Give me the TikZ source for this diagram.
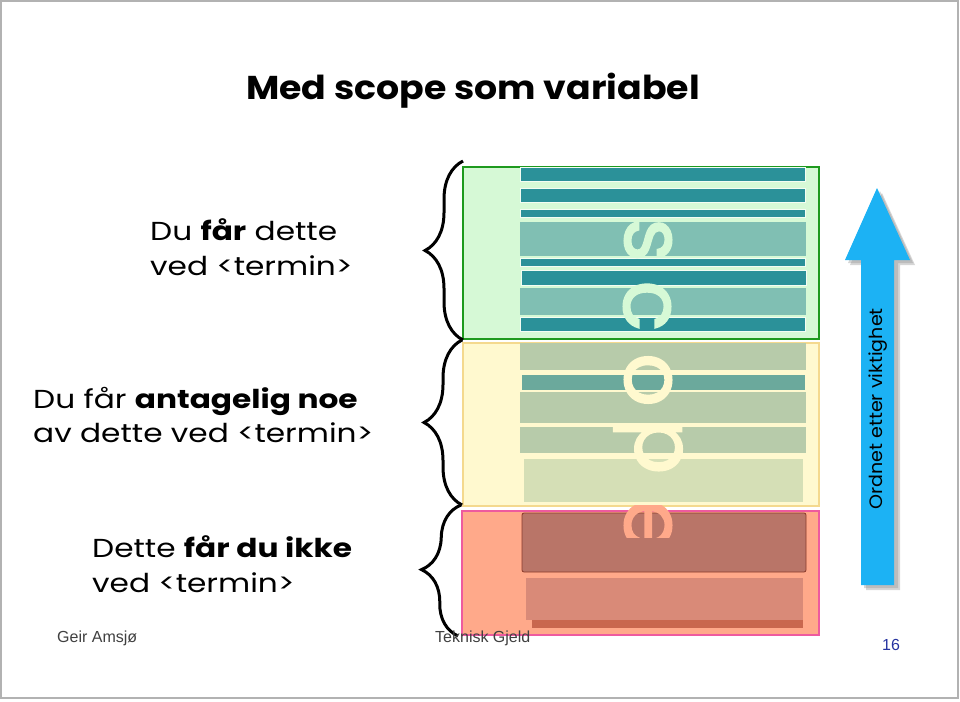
\documentclass[tikz,border=0pt]{standalone}
\usepackage{fontspec}
\setmainfont{Poppins}
\newfontfamily\titlefont[FakeStretch=1.1]{Poppins}
\newfontfamily\widefont[FakeStretch=1.2]{Poppins}
\newfontfamily\arrfont[FakeStretch=1.06]{Poppins}
\newfontfamily\letterfont[FakeBold=1.8]{Poppins}
\newfontfamily\footfont{Liberation Sans}
\usetikzlibrary{decorations.pathreplacing}
\definecolor{gfill}{HTML}{D6F9D6}
\definecolor{gline}{HTML}{1E9A1E}
\definecolor{yfill}{HTML}{FFF9CF}
\definecolor{yline}{HTML}{F4D98E}
\definecolor{pfill}{HTML}{FFA98A}
\definecolor{pline}{HTML}{EE5A9E}
\definecolor{tealdark}{HTML}{2B9199}
\definecolor{teallight}{HTML}{80BFB3}
\definecolor{sage}{HTML}{B7CBAA}
\definecolor{sagedark}{HTML}{6BA99C}
\definecolor{sagelight}{HTML}{D5DFB6}
\definecolor{brown1}{HTML}{B97568}
\definecolor{brownline}{HTML}{8B3A2A}
\definecolor{salmon2}{HTML}{D98A78}
\definecolor{salmon3}{HTML}{C9674E}
\definecolor{arrowblue}{HTML}{1CB2F4}
\definecolor{footgray}{HTML}{404040}
\definecolor{pageblue}{HTML}{2633A0}
\tikzset{
  box/.style={rectangle, inner sep=0pt, anchor=north west, line width=2pt},
  txt/.style={anchor=base west, inner sep=0pt, font=\widefont\fontsize{26}{30}\selectfont},
  darkstripe/.style={fill=tealdark, draw=white!70!gfill, line width=1pt},
  lightstripe/.style={fill=teallight},
  letter/.style={inner sep=0pt, rotate=-90, font=\letterfont\fontsize{84}{90}\selectfont},
  bracestyle/.style={decorate, decoration={brace, amplitude=38pt, aspect=0.5}, line width=3pt},
  foot/.style={anchor=base west, inner sep=0pt, font=\footfont\fontsize{16}{18}\selectfont, text=footgray}
}
\begin{document}
\begin{tikzpicture}[x=1pt,y=-1pt]
\useasboundingbox (0,0) rectangle (960,701);
\fill[white] (0,0) rectangle (960,701);
\draw[black!30, line width=2pt] (1,1) rectangle (958,698);

% title
\node[anchor=base, inner sep=0pt, font=\titlefont\bfseries\fontsize{33}{38}\selectfont] (title) at (473,99) {Med scope som variabel};

% left texts
\node[txt] (a1) at (150,240) {Du \textbf{får} dette};
\node[txt] (a2) at (150,275) {ved <termin>};
\node[txt] (b1) at (33,408) {Du får \textbf{antagelig noe}};
\node[txt] (b2) at (33,442) {av dette ved <termin>};
\node[txt] (c1) at (92,557) {Dette \textbf{får du ikke}};
\node[txt] (c2) at (92,592) {ved <termin>};

% boxes
\node[box, fill=gfill, draw=gline, minimum width=356pt, minimum height=172pt] (gbox) at (462,166) {};
\node[box, fill=yfill, draw=yline, minimum width=356pt, minimum height=163pt] (ybox) at (462,342) {};
\node[box, fill=pfill, draw=pline, minimum width=357pt, minimum height=124pt] (pbox) at (461,510) {};

% green stripes
\filldraw[darkstripe] (520,167) rectangle (805,181);
\filldraw[darkstripe] (520,188) rectangle (805,202);
\filldraw[darkstripe] (520,209) rectangle (805,217);
\fill[lightstripe] (520,222) rectangle (806,256);
\filldraw[darkstripe] (520,258) rectangle (805,266);
\filldraw[darkstripe] (521,270) rectangle (806,285);
\fill[lightstripe] (520,288) rectangle (806,315);
\filldraw[darkstripe] (520,317) rectangle (805,331);

% yellow stripes
\fill[sage] (520,343) rectangle (806,370);
\filldraw[fill=sagedark, draw=yfill, line width=1pt] (521,374) rectangle (805,390);
\fill[sage] (520,392) rectangle (806,423);
\fill[sage] (520,427) rectangle (806,453);
\fill[sagelight] (524,459) rectangle (803,502);

% pink stripes
\filldraw[fill=brown1, draw=brownline, line width=0.8pt, rounded corners=2pt] (522,513) rectangle (806,572);
\fill[salmon3] (532,612) rectangle (803,628);
\fill[salmon2] (526,578) rectangle (803,620);

% scope letters
\node[letter, text=gfill] (ls) at (648,240) {s};
\node[letter, text=gfill] (lc) at (647,306) {c};
\node[letter, text=yfill] (lo) at (648,380) {o};
\node[letter, text=yfill] (lp) at (648,446) {p};
\begin{scope}
\clip (600,505) rectangle (700,537);
\node[letter, text=pfill] (le) at (648,525) {e};
\end{scope}

% braces
\coordinate (g1) at (463,340);
\coordinate (g2) at (463,161);
\coordinate (y1) at (462,505);
\coordinate (y2) at (462,340);
\coordinate (p1) at (458,636);
\coordinate (p2) at (461,505);
\draw[bracestyle] (g1) -- (g2);
\draw[bracestyle] (y1) -- (y2);
\draw[bracestyle] (p1) -- (p2);

% arrow
\fill[black!45, opacity=0.35] (866,590) -- (900,590) -- (900,265) -- (915,265) -- (882,193) -- (850,265) -- (866,265) -- cycle;
\fill[black!45, opacity=0.35] (864,588) -- (898,588) -- (898,263) -- (913,263) -- (880,191) -- (848,263) -- (864,263) -- cycle;
\fill[arrowblue] (861,585) -- (894,585) -- (894,260) -- (910,260) -- (877,188) -- (845,260) -- (861,260) -- cycle;
\node[inner sep=0pt, rotate=90, font=\arrfont\fontsize{18}{20}\selectfont] (arrtxt) at (878,409) {Ordnet etter viktighet};

% footer
\node[foot] (f1) at (57,642) {Geir Amsjø};
\node[foot] (f2) at (435,642) {Teknisk Gjeld};
\node[foot, text=pageblue] (f3) at (882,650) {16};
\end{tikzpicture}
\end{document}
